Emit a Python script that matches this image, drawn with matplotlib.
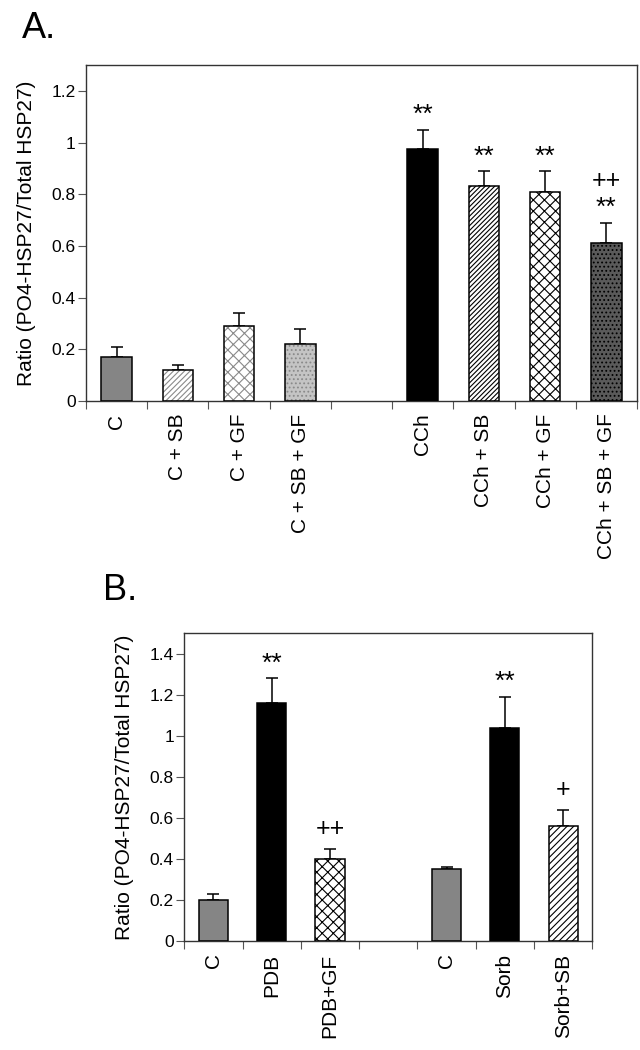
import matplotlib
matplotlib.use("Agg")
import matplotlib.pyplot as plt
from matplotlib.ticker import FuncFormatter, FixedLocator
import numpy as np

plt.rcParams['font.family'] = ['Liberation Sans', 'DejaVu Sans']
plt.rcParams['hatch.linewidth'] = 0.8

# ---------------- Panel A data ----------------
a_labels = ["C", "C + SB", "C + GF", "C + SB + GF",
            "CCh", "CCh + SB", "CCh + GF", "CCh + SB + GF"]
a_values = [0.17, 0.12, 0.29, 0.22, 0.975, 0.83, 0.81, 0.61]
a_errors = [0.04, 0.02, 0.05, 0.06, 0.075, 0.06, 0.08, 0.08]
a_marks = ["", "", "", "", "**", "**", "**", "++\n**"]
a_slots = [0, 1, 2, 3, 5, 6, 7, 8]

# ---------------- Panel B data ----------------
b_labels = ["C", "PDB", "PDB+GF", "C", "Sorb", "Sorb+SB"]
b_values = [0.20, 1.16, 0.40, 0.35, 1.04, 0.56]
b_errors = [0.03, 0.12, 0.05, 0.01, 0.15, 0.08]
b_marks = ["", "**", "++", "", "**", "+"]
b_slots = [0, 1, 2, 4, 5, 6]

# styles: (facecolor, hatch, hatchcolor)
a_styles = [("#858585", None, "black"),
            ("white", "//////", "#8a8a8a"),
            ("white", "xxx", "#8a8a8a"),
            ("#c4c4c4", "....", "#8a8a8a"),
            ("black", None, "black"),
            ("white", "///////", "black"),
            ("white", "xxx", "black"),
            ("#5a5a5a", "....", "black")]
b_styles = [("#858585", None, "black"),
            ("black", None, "black"),
            ("white", "xxx", "black"),
            ("#858585", None, "black"),
            ("black", None, "black"),
            ("white", "/////", "black")]

TICKFS = 12.5
LABFS = 15

fig = plt.figure(figsize=(6.4, 10.5), dpi=100)


def draw_panel(ax, labels, values, errors, marks, slots, styles, nslots, ymax, yticks):
    centers = np.array(slots) + 0.5
    for x, v, e, (fc, h, hc) in zip(centers, values, errors, styles):
        ax.bar(x, v, width=0.5, color=fc, edgecolor=hc, hatch=h, linewidth=0, zorder=2)
        ax.bar(x, v, width=0.5, fill=False, edgecolor="black", linewidth=1.1, zorder=3)
        ax.errorbar(x, v, yerr=[[0], [e]], fmt="none", ecolor="black",
                    elinewidth=1.1, capsize=4.5, capthick=1.1, zorder=1)
    for x, v, e, m in zip(centers, values, errors, marks):
        if not m:
            continue
        lines = m.split("\n")[::-1]
        for i, ln in enumerate(lines):
            if "*" in ln:
                fs, yoff = 19, 10.5
            else:
                fs, yoff = 18, 14 if i == 0 else 30
            ax.annotate(ln, (x, v + e), xytext=(0, yoff), textcoords="offset points",
                        ha="center", va="center", fontsize=fs)
    ax.set_xlim(0, nslots)
    ax.set_ylim(0, ymax)
    ax.set_yticks(yticks)
    ax.yaxis.set_major_formatter(FuncFormatter(lambda v, p: f"{v:g}"))
    ax.xaxis.set_major_locator(FixedLocator(np.arange(0, nslots + 1)))
    ax.xaxis.set_major_formatter(FuncFormatter(lambda v, p: ""))
    ax.xaxis.set_minor_locator(FixedLocator(centers))
    ax.set_xticks(centers, labels, minor=True, rotation=90, fontsize=LABFS)
    ax.tick_params(axis="x", which="major", direction="out", length=5.5, width=0.8,
                   colors="#555555")
    ax.tick_params(axis="x", which="minor", length=0, pad=9, labelcolor="black")
    ax.tick_params(axis="y", direction="out", length=6, width=0.8, labelsize=TICKFS,
                   color="#555555", pad=1.5)
    for s in ax.spines.values():
        s.set_linewidth(1.0)
        s.set_color("#333333")
    ax.set_ylabel("Ratio (PO4-HSP27/Total HSP27)", fontsize=LABFS, labelpad=11)


axA = fig.add_axes([86 / 640, 1 - 401 / 1050, (637 - 86) / 640, (401 - 65) / 1050])
draw_panel(axA, a_labels, a_values, a_errors, a_marks, a_slots, a_styles, 9, 1.3,
           [0, 0.2, 0.4, 0.6, 0.8, 1.0, 1.2])

axB = fig.add_axes([184.3 / 640, 1 - 941 / 1050, (592.3 - 184.3) / 640, (941 - 633.3) / 1050])
draw_panel(axB, b_labels, b_values, b_errors, b_marks, b_slots, b_styles, 7, 1.5,
           [0, 0.2, 0.4, 0.6, 0.8, 1.0, 1.2, 1.4])

fig.text(22 / 640, 1 - 38 / 1050, "A.", fontsize=26, ha="left", va="baseline")
fig.text(103 / 640, 1 - 600 / 1050, "B.", fontsize=26, ha="left", va="baseline")

fig.savefig("out.png", dpi=100, facecolor="white")
